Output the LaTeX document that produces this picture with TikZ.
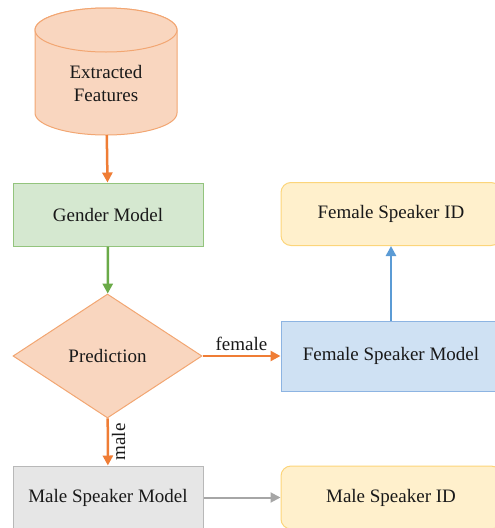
\documentclass[tikz,border=0pt]{standalone}
\usepackage{fontspec}
\setmainfont{Liberation Serif}
\usepackage{tikz}
\usetikzlibrary{arrows.meta,positioning,shapes.geometric}
\definecolor{peachFill}{HTML}{F9D6BF}
\definecolor{peachLine}{HTML}{F2A672}
\definecolor{peachArrow}{HTML}{EF7D35}
\definecolor{greenFill}{HTML}{D5E8D0}
\definecolor{greenLine}{HTML}{93C47D}
\definecolor{greenArrow}{HTML}{6AAA48}
\definecolor{blueFill}{HTML}{CFE1F3}
\definecolor{blueLine}{HTML}{8DB4E2}
\definecolor{blueArrow}{HTML}{5B9BD5}
\definecolor{yellowFill}{HTML}{FFF0CC}
\definecolor{yellowLine}{HTML}{FCD57A}
\definecolor{grayFill}{HTML}{E6E6E6}
\definecolor{grayLine}{HTML}{B8B8B8}
\definecolor{grayArrow}{HTML}{A6A6A6}

\begin{document}
\begin{tikzpicture}[x=1pt, y=1pt,
    every node/.style={font=\rmfamily\fontsize{19}{23}\selectfont, text=black!90},
    box/.style={draw, line width=1pt, minimum width=190pt, minimum height=63pt, inner sep=0pt},
    idbox/.style={box, rounded corners=10pt, draw=yellowLine, fill=yellowFill, minimum width=220pt},
    flow/.style={line width=2.5pt, -{Triangle[length=10pt,width=10pt]}}]
        % Canvas
        \useasboundingbox (0,0) rectangle (495,-528);
        \clip (0,0) rectangle (495,-528);
        % Database cylinder
        \draw[peachLine, fill=peachFill, line width=1pt] (35,-30) -- (35,-113)
          arc[start angle=180, end angle=360, x radius=71, y radius=22] -- (177,-30)
          arc[start angle=0, end angle=180, x radius=71, y radius=22] -- cycle;
        \draw[peachLine, fill=peachFill, line width=1pt] (106,-30) ellipse[x radius=71, y radius=22];
        \node[align=center, minimum width=142pt, minimum height=104pt, inner sep=0pt] (feat) at (106,-83) {Extracted\\Features};
        % Left column
        \node[box, draw=greenLine, fill=greenFill] (gender) at (108,-214.5) {Gender Model};
        \node[diamond, draw=peachLine, fill=peachFill, line width=1pt, aspect=1.52,
              minimum width=189pt, minimum height=124pt, inner sep=0pt] (pred) at (107.5,-356) {Prediction};
        \node[box, draw=grayLine, fill=grayFill] (malemodel) at (108,-497.5) {Male Speaker Model};
        % Right column
        \node[box, draw=blueLine, fill=blueFill, minimum width=220pt, minimum height=70pt] (femmodel) at (391,-356) {Female Speaker Model};
        \node[idbox] (femid) at (391,-214) {Female Speaker ID};
        \node[idbox] (maleid) at (391,-497.5) {Male Speaker ID};
        % Connectors
        \draw[flow, peachArrow] (feat) -- (gender);
        \draw[flow, greenArrow] (gender) -- (pred);
        \draw[flow, peachArrow] (pred) -- node[midway, above, inner sep=4pt] (femlabel) {female} (femmodel);
        \draw[flow, peachArrow] (pred) -- node[midway, rotate=90, anchor=north, inner sep=3pt] (malelabel) {male} (malemodel);
        \draw[flow, blueArrow] (femmodel) -- (femid);
        \draw[flow, grayArrow, line width=2pt] (malemodel) -- (maleid);
      \end{tikzpicture}
\end{document}
